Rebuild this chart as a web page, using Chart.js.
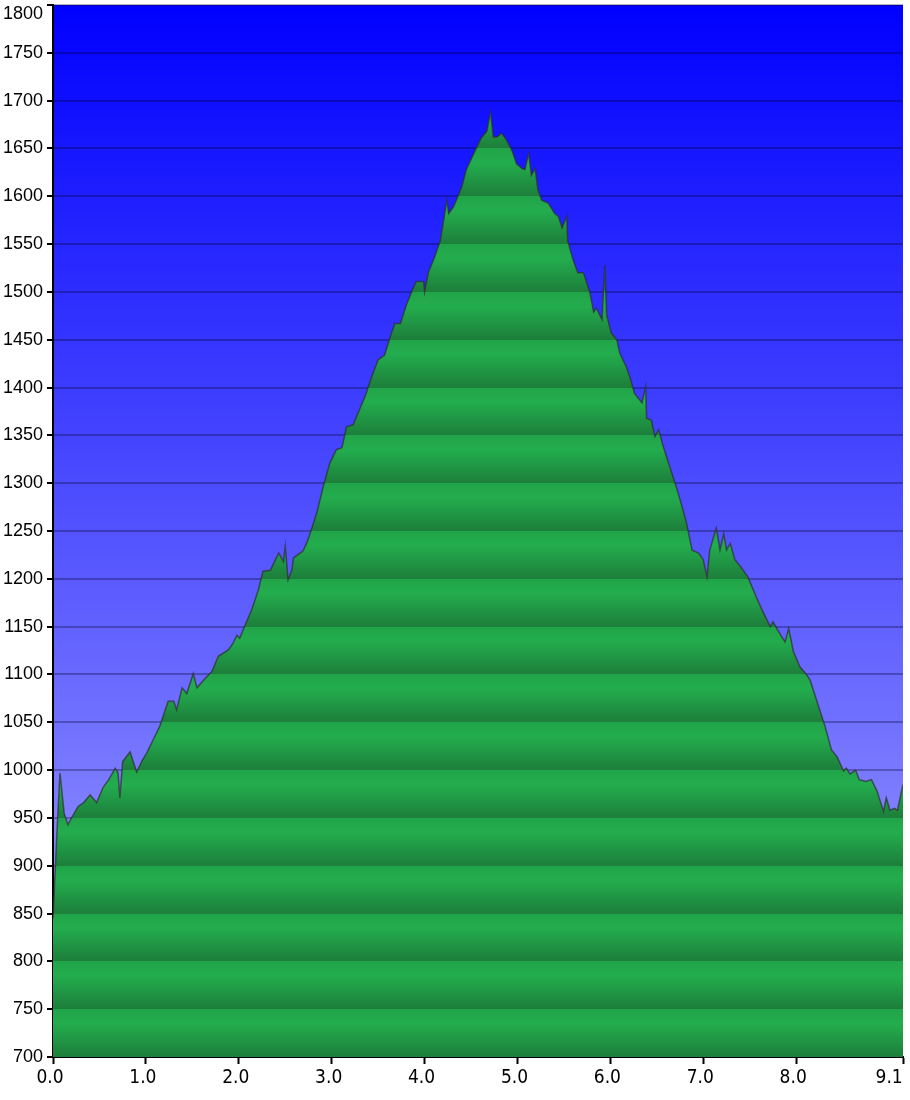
<!DOCTYPE html>
<html>
<head>
<meta charset="utf-8">
<style>
  html, body { margin: 0; padding: 0; background: #fff; }
  #wrap { width: 910px; height: 1100px; }
</style>
<script src="https://cdn.jsdelivr.net/npm/chart.js@4.4.1/dist/chart.umd.min.js"></script>
</head>
<body>
<div id="wrap"><canvas id="profile" width="910" height="1100"></canvas></div>
<script>
// distance (km) and elevation (m)
const dist = [
  0.00, 0.04, 0.075, 0.12, 0.16, 0.20, 0.27, 0.33, 0.40, 0.47, 0.54, 0.60, 0.67, 0.70, 0.72, 0.75,
  0.83, 0.90, 0.96, 1.01, 1.08, 1.15, 1.24, 1.30, 1.33, 1.39, 1.44, 1.51, 1.55, 1.62, 1.71, 1.78,
  1.89, 1.94, 1.98, 2.01, 2.07, 2.14, 2.21, 2.26, 2.34, 2.43, 2.48, 2.50, 2.53, 2.57, 2.59, 2.69,
  2.73, 2.78, 2.84, 2.91, 2.98, 3.05, 3.11, 3.16, 3.23, 3.30, 3.36, 3.43, 3.50, 3.57, 3.63, 3.68,
  3.74, 3.81, 3.86, 3.91, 3.99, 4.00, 4.04, 4.11, 4.17, 4.20, 4.24, 4.26, 4.31, 4.36, 4.40, 4.45,
  4.54, 4.61, 4.67, 4.71, 4.74, 4.78, 4.83, 4.88, 4.94, 4.99, 5.05, 5.08, 5.12, 5.15, 5.19, 5.22,
  5.26, 5.33, 5.40, 5.44, 5.48, 5.53, 5.54, 5.60, 5.65, 5.71, 5.78, 5.82, 5.85, 5.91, 5.94, 5.96,
  6.01, 6.07, 6.10, 6.17, 6.21, 6.26, 6.34, 6.38, 6.39, 6.44, 6.48, 6.52, 6.57, 6.64, 6.71, 6.77,
  6.82, 6.88, 6.95, 7.00, 7.04, 7.07, 7.14, 7.18, 7.22, 7.25, 7.29, 7.34, 7.40, 7.48, 7.57, 7.63,
  7.72, 7.75, 7.84, 7.88, 7.92, 7.97, 8.04, 8.11, 8.15, 8.22, 8.31, 8.38, 8.44, 8.51, 8.54, 8.58,
  8.64, 8.68, 8.75, 8.81, 8.87, 8.94, 8.97, 9.01, 9.06, 9.09, 9.15
];
const elev = [
  845, 930, 997, 955, 943, 950, 962, 966, 974, 966, 982, 990, 1002, 997, 971, 1009,
  1019, 998, 1010, 1018, 1032, 1046, 1072, 1072, 1063, 1086, 1080, 1101, 1086, 1094, 1103, 1119,
  1126, 1133, 1141, 1138, 1152, 1168, 1188, 1208, 1209, 1227, 1218, 1234, 1199, 1209, 1222, 1229,
  1237, 1251, 1269, 1297, 1321, 1335, 1337, 1359, 1361, 1377, 1391, 1411, 1429, 1434, 1453, 1467,
  1467, 1488, 1500, 1511, 1511, 1500, 1520, 1537, 1554, 1572, 1596, 1582, 1589, 1600, 1610, 1628,
  1647, 1661, 1668, 1688, 1662, 1662, 1666, 1659, 1648, 1634, 1629, 1628, 1645, 1622, 1629, 1607,
  1596, 1593, 1582, 1579, 1567, 1579, 1554, 1533, 1520, 1520, 1499, 1479, 1483, 1471, 1528, 1476,
  1457, 1450, 1436, 1422, 1411, 1394, 1384, 1401, 1368, 1366, 1349, 1356, 1338, 1317, 1296, 1276,
  1258, 1230, 1227, 1220, 1202, 1230, 1253, 1230, 1247, 1230, 1237, 1220, 1213, 1202, 1181, 1168,
  1150, 1155, 1140, 1134, 1148, 1124, 1108, 1100, 1094, 1073, 1046, 1021, 1014, 999, 1002, 996,
  1000, 990, 988, 990, 978, 957, 971, 958, 960, 958, 985
];
const xTicks = [0, 1, 2, 3, 4, 5, 6, 7, 8, 9.15];
const yMin = 700, yMax = 1800, yStep = 50;

const points = dist.map((d, i) => ({ x: d, y: elev[i] }));

// green fill, shaded in bands between the grid lines
function bandFill(context) {
  const chart = context.chart;
  const area = chart.chartArea;
  if (!area) return '#22a84a';
  const ys = chart.scales.y;
  const g = chart.ctx.createLinearGradient(0, area.top, 0, area.bottom);
  const h = area.bottom - area.top;
  const off = v => Math.min(1, Math.max(0, (ys.getPixelForValue(v) - area.top) / h));
  for (let v = yMax; v > yMin; v -= yStep) {
    const t = off(v), b = off(v - yStep);
    g.addColorStop(t, '#21a449');
    g.addColorStop(t + (b - t) * 0.3, '#23ad4e');
    g.addColorStop(b, '#1d7e3a');
  }
  return g;
}

const plotBg = {
  id: 'plotBg',
  beforeDraw(chart) {
    const { ctx, chartArea: a } = chart;
    const g = ctx.createLinearGradient(0, a.top, 0, a.bottom);
    g.addColorStop(0, '#0000ff');
    g.addColorStop(1, '#a5a5ff');
    ctx.save();
    ctx.fillStyle = g;
    ctx.fillRect(a.left, a.top, a.right - a.left, a.bottom - a.top);
    ctx.restore();
  }
};

new Chart(document.getElementById('profile'), {
  type: 'line',
  data: {
    datasets: [{
      data: points,
      fill: 'start',
      backgroundColor: bandFill,
      borderColor: 'rgba(45,45,45,0.7)',
      borderWidth: 1.5,
      pointRadius: 0,
      tension: 0
    }]
  },
  options: {
    responsive: false,
    animation: false,
    layout: { padding: { top: 5, right: 7, left: 0, bottom: 0 } },
    plugins: { legend: { display: false }, tooltip: { enabled: false } },
    scales: {
      x: {
        type: 'linear',
        min: 0,
        max: 9.15,
        afterBuildTicks: s => { s.ticks = xTicks.map(v => ({ value: v })); },
        afterFit: s => { s.height = 43; s.paddingLeft = 0; s.paddingRight = 0; },
        border: { color: '#000', width: 2 },
        grid: { drawOnChartArea: false, color: '#000', tickLength: 7, tickWidth: 2 },
        ticks: {
          autoSkip: false,
          maxRotation: 0,
          color: '#000',
          padding: 3,
          labelOffset: -3,
          font: { family: '"DejaVu Sans Condensed", sans-serif', size: 19 },
          callback: v => {
            const s = (Math.floor(v * 10 + 1e-6) / 10).toFixed(1);
            return v === xTicks[xTicks.length - 1] ? s + '\u2007\u2007' : s;
          }
        }
      },
      y: {
        min: yMin,
        max: yMax,
        z: 1,
        afterFit: s => { s.width = 53; s.paddingTop = 0; s.paddingBottom = 0; },
        border: { color: '#000', width: 2 },
        grid: { color: 'rgba(0,0,30,0.3)', lineWidth: 2, tickColor: '#000', tickLength: 6, tickWidth: 2 },
        ticks: {
          stepSize: yStep,
          color: '#000',
          padding: 4,
          font: { family: '"Liberation Sans", sans-serif', size: 18, lineHeight: 1 },
          // top label sits just below its tick so it stays inside the canvas
          callback: v => (v === yMax ? ['', String(v)] : String(v))
        }
      }
    }
  },
  plugins: [plotBg]
});
</script>
</body>
</html>
